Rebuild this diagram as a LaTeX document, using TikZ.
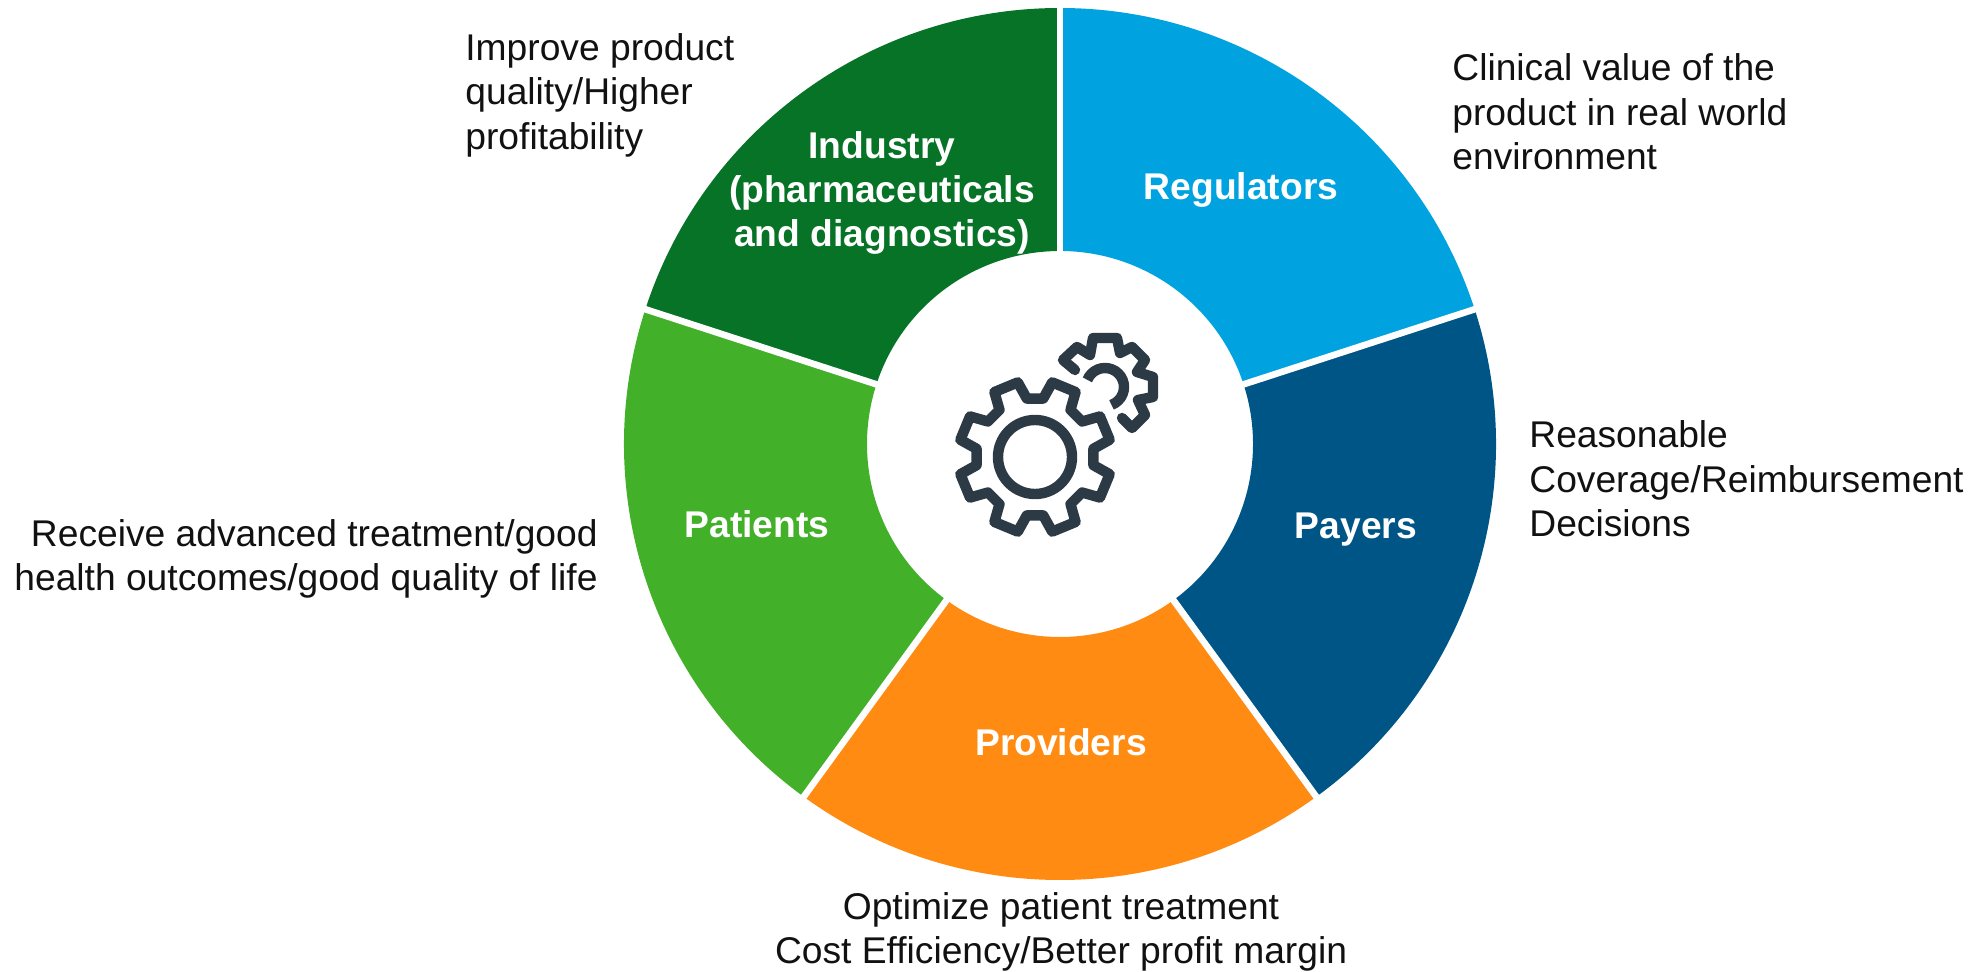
\documentclass[tikz,border=0pt]{standalone}
\usepackage{fontspec}
\setmainfont{Liberation Sans}
\definecolor{cind}{HTML}{067326}
\definecolor{creg}{HTML}{00A3E0}
\definecolor{cpay}{HTML}{005587}
\definecolor{cpro}{HTML}{FF8B12}
\definecolor{cpat}{HTML}{43B02A}
\definecolor{cgear}{HTML}{2B3A44}
\definecolor{ctext}{HTML}{111111}
\tikzset{
  note/.style={text=ctext,inner sep=0pt,font=\fontsize{18.6}{22.2}\selectfont},
  seglabel/.style={text=white,inner sep=0pt,align=center,font=\fontsize{18.6}{22}\selectfont\bfseries},
  gearline/.style={draw=cgear,line width=5.2pt,line join=round,line cap=round},
  gap/.style={draw=white,line width=3.3pt,line cap=butt},
}
\newcommand{\seg}[3]{\fill[#1] (#2:218pt) arc[start angle=#2,end angle=#3,radius=218pt] -- (#3:96.5pt) arc[start angle=#3,end angle=#2,radius=96.5pt] -- cycle;}
\begin{document}
\begin{tikzpicture}[x=0.5pt,y=-0.5pt]
\useasboundingbox (0,0) rectangle (1972,972);
\begin{scope}[shift={(1060,444)}]
  \seg{creg}{90}{18}
  \seg{cpay}{18}{-54}
  \seg{cpro}{-54}{-126}
  \seg{cpat}{-126}{-198}
  \seg{cind}{162}{90}
  \foreach \a in {90,18,-54,-126,162}{\draw[gap] (\a:90pt) -- (\a:225pt);}
\end{scope}
% large gear
\begin{scope}[shift={(1035,457)}]
  \draw[gearline] (82:29.5pt)
    \foreach \a in {90,135,180,225,270,315,360,405}{
      -- (\a-8:29.5pt) -- (\a+8:29.5pt) -- (\a+13:38.3pt) -- (\a+32:38.3pt) -- (\a+37:29.5pt)
    } -- cycle;
  \draw[draw=cgear,line width=5.2pt] (0,0) circle[radius=18.5pt];
\end{scope}
% small gear
\draw[gearline] (1075,370) -- (1063,360) -- (1077,347) -- (1090,355) -- (1093,338) -- (1117,338) -- (1120,353) -- (1132,347) -- (1145,360) -- (1137,372) -- (1153,377) -- (1153,397) -- (1138,400) -- (1145,415) -- (1132,428) -- (1122,418);
\draw[draw=cgear,line width=5.2pt] (1105,387) ++(158:9.5pt) arc[start angle=158,end angle=-70,radius=9.5pt];
% segment labels
\node[seglabel] (reg) at (1241,190) {Regulators};
\node[seglabel] (pay) at (1356,530) {Payers};
\node[seglabel] (pro) at (1061,742) {Providers};
\node[seglabel] (pat) at (757,524) {Patients};
\node[seglabel] (ind) at (882,193) {Industry\\(pharmaceuticals\\and diagnostics)};
% notes
\node[note,anchor=west,align=left] (n1) at (465,95) {Improve product\\quality/Higher\\profitability};
\node[note,anchor=west,align=left] (n2) at (1452,112) {Clinical value of the\\product in real world\\environment};
\node[note,anchor=west,align=left] (n3) at (1529,479) {Reasonable\\Coverage/Reimbursement\\Decisions};
\node[note,anchor=east,align=right] (n4) at (598,559) {Receive advanced treatment/good\\health outcomes/good quality of life};
\node[note,align=center] (n5) at (1061,932) {Optimize patient treatment\\Cost Efficiency/Better profit margin};
\end{tikzpicture}
\end{document}
